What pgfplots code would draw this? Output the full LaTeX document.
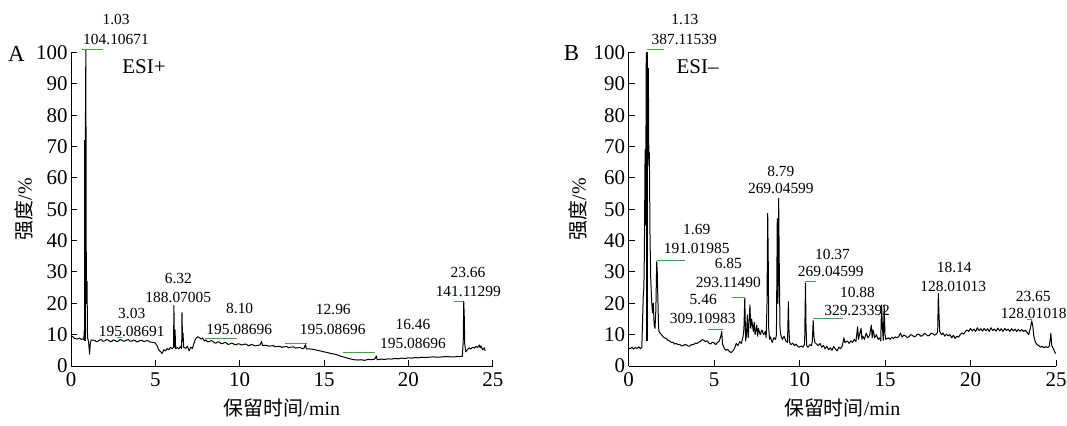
\documentclass[border=0pt]{standalone}
\usepackage{fontspec}
\setmainfont{Liberation Serif}
\newfontfamily\cjk{Noto Sans CJK SC}
\usepackage{pgfplots}
\pgfplotsset{compat=1.18}
\definecolor{mkgreen}{RGB}{70,160,70}

\newcommand{\tickfont}{\fontsize{21}{24}\selectfont}
\pgfplotsset{
  chrom/.style={
    axis lines=left,
    axis line style={-, line width=1bp, black},
    xmin=0, xmax=25, ymin=0, ymax=100,
    y=3.135bp,
    xtick={0,5,...,25}, ytick={0,10,...,100},
    tick align=inside,
    major tick length=6bp,
    tick style={black, line width=1bp},
    /pgf/number format/assume math mode=true,
    xticklabel style={font=\tickfont, yshift=-3bp},
    yticklabel style={font=\tickfont},
    clip=false,
    anchor=south west,
    xlabel={{\cjk 保留时间}/min},
    ylabel={{\cjk 强度}/\%},
    xlabel style={font=\fontsize{20}{24}\selectfont, at={(axis description cs:0.5,-0.134)}, anchor=center},
    label style={font=\fontsize{20}{24}\selectfont},
  },
  trace/.style={black, line width=1bp, mark=none, line join=round},
  gline/.style={mkgreen, line width=1bp, mark=none},
}
\tikzset{ann/.style={font=\fontsize{15.5}{18}\selectfont, inner sep=0pt, anchor=center}}

\begin{document}
\begin{tikzpicture}
\useasboundingbox (0bp,0bp) rectangle (1067bp,426bp);

%================ Panel A ================
\begin{axis}[chrom, at={(71bp,60bp)}, x=16.87bp,
  ylabel style={at={(axis description cs:-0.111,0.5)}, anchor=center}]
\addplot[trace] coordinates {
(0.00,9.5)(0.10,9.4)(0.20,8.8)(0.30,8.7)(0.40,8.6)(0.50,8.9)(0.60,8.5)(0.70,8.7)(0.76,8.4)
(0.79,11.5)(0.81,8.5)(0.83,10)(0.85,72)(0.88,101)(0.91,20)(0.95,27)(0.98,9)(1.03,8.0)(1.07,6.0)
(1.10,3.8)(1.15,7.5)(1.20,8.3)(1.4,8.2)(1.5,7.8)(1.6,7.9)(1.7,8.3)(1.8,8.4)(1.9,7.9)(2.0,8.0)(2.1,8.4)
(2.2,8.3)(2.3,7.9)(2.4,7.8)(2.5,8.3)(2.6,8.2)(2.7,7.8)(2.8,7.9)(2.9,8.4)(3.0,8.3)(3.1,7.9)(3.2,8.0)
(3.3,8.3)(3.4,8.4)(3.5,7.9)(3.6,7.9)(3.7,8.3)(3.8,8.1)(3.9,7.7)(4.0,7.8)(4.1,8.2)(4.2,8.2)(4.3,7.8)
(4.4,7.9)(4.5,8.1)(4.6,8.0)(4.7,7.6)(4.8,7.6)(4.9,7.5)(5.0,7.3)(5.1,6.5)(5.2,5.2)(5.3,4.6)(5.4,4.0)
(5.5,5.2)(5.6,4.8)(5.7,5.6)(5.8,5.2)(5.9,5.9)(6.0,5.5)(6.08,6.0)(6.10,19.3)(6.13,6.0)(6.17,11.5)
(6.2,5.5)(6.3,5.9)(6.4,5.5)(6.5,6.3)(6.56,5.5)(6.58,17)(6.61,8)(6.64,10.5)(6.68,6)(6.8,5.6)(6.9,6.3)
(7.0,4.8)(7.1,6.0)(7.2,5.6)(7.3,7.5)(7.4,8.8)(7.5,9.3)(7.6,9.1)(7.7,8.6)(7.8,8.9)(7.9,8.0)(8.0,8.3)
(8.1,7.7)(8.2,7.8)(8.3,8.1)(8.4,7.9)(8.5,7.4)(8.6,7.3)(8.7,7.7)(8.8,7.6)(8.9,7.1)(9.0,7.2)(9.1,7.5)
(9.2,7.4)(9.3,6.9)(9.4,7.0)(9.5,7.3)(9.6,7.2)(9.7,6.8)(9.8,6.8)(9.9,7.1)(10.0,7.0)(10.1,6.7)(10.2,6.8)
(10.3,7.0)(10.4,6.9)(10.5,6.5)(10.6,6.6)(10.7,6.9)(10.8,6.7)(10.9,6.4)(11.0,6.5)(11.2,6.7)(11.3,7.8)
(11.35,6.5)(11.5,6.6)(11.6,6.6)(11.7,6.3)(11.8,6.4)(12.0,6.5)(12.1,6.1)(12.2,6.2)(12.4,6.3)(12.5,5.9)
(12.6,6.1)(12.8,6.2)(12.9,5.8)(13.0,6.0)(13.2,6.1)(13.3,5.7)(13.4,5.8)(13.6,5.9)(13.7,5.5)(13.8,5.6)
(13.9,6.8)(13.95,5.5)(14.2,5.4)(14.4,5.3)(14.6,5.0)(14.8,4.8)(15.0,4.5)(15.2,4.3)(15.4,4.0)(15.6,3.8)
(15.8,3.5)(16.0,3.1)(16.2,2.8)(16.4,2.5)(16.6,2.2)(16.8,2.0)(17.0,1.9)(17.2,2.0)(17.4,1.8)(17.6,2.1)
(17.8,2.0)(18.0,2.2)(18.1,3.2)(18.15,2.0)(18.4,2.2)(18.6,2.1)(18.8,2.3)(19.0,2.2)(19.2,2.4)(19.4,2.3)
(19.6,2.5)(19.8,2.4)(20.0,2.6)(20.2,2.5)(20.4,2.7)(20.6,2.6)(20.8,2.8)(21.0,2.7)(21.4,2.9)(21.8,2.8)
(22.2,3.0)(22.6,2.9)(23.0,3.0)(23.2,3.1)(23.25,8)(23.28,20.5)(23.31,16)(23.34,7)(23.4,4.5)(23.5,5.2)
(23.6,5.8)(23.7,5.4)(23.8,6.0)(23.9,5.7)(24.0,6.2)(24.1,5.9)(24.2,6.7)(24.25,5.8)(24.3,6.4)(24.4,5.2)
(24.5,5.8)(24.55,4.8)
};
\addplot[trace, line width=2bp] coordinates {(0.85,8)(0.85,72)};
\addplot[gline] coordinates {(0.65,101.1)(1.90,101.1)};
\addplot[gline] coordinates {(2.73,9.2)(3.02,9.2)};
\addplot[gline] coordinates {(7.94,8.9)(9.82,8.9)};
\addplot[gline] coordinates {(12.69,7.1)(13.97,7.1)};
\addplot[gline] coordinates {(16.14,4.2)(18.02,4.2)};
\addplot[gline] coordinates {(22.70,20.7)(23.25,20.7)};
\node[ann] at (axis cs:2.67,110.4) {1.03};
\node[ann] at (axis cs:2.67,104.3) {104.10671};
\node[ann] at (axis cs:3.60,16.9) {3.03};
\node[ann] at (axis cs:3.60,10.9) {195.08691};
\node[ann] at (axis cs:6.36,27.8) {6.32};
\node[ann] at (axis cs:6.36,21.8) {188.07005};
\node[ann] at (axis cs:10.0,18.4) {8.10};
\node[ann] at (axis cs:9.97,11.7) {195.08696};
\node[ann] at (axis cs:15.55,17.9) {12.96};
\node[ann] at (axis cs:15.51,11.5) {195.08696};
\node[ann] at (axis cs:20.27,13.1) {16.46};
\node[ann] at (axis cs:20.27,7.2) {195.08696};
\node[ann] at (axis cs:23.53,29.8) {23.66};
\node[ann] at (axis cs:23.55,23.7) {141.11299};
\node[font=\fontsize{21}{24}\selectfont, inner sep=0pt] at (axis cs:4.33,95.4) {ESI+};
\end{axis}

%================ Panel B ================
\begin{axis}[chrom, at={(628.5bp,60bp)}, x=17.1bp,
  ylabel style={at={(axis description cs:-0.118,0.5)}, anchor=center}]
\addplot[trace] coordinates {
(0.0,5.8)(0.1,5.5)(0.2,6.0)(0.3,5.4)(0.4,5.9)(0.5,5.6)(0.6,6.1)(0.7,5.5)(0.78,6.0)(0.82,14)(0.86,22)
(0.90,25)(0.93,37)(0.97,69)(1.00,45)(1.04,100)(1.07,98)(1.10,100)(1.13,66)(1.16,95)(1.19,64)(1.22,68)
(1.26,40)(1.3,28)(1.35,21)(1.4,17)(1.45,20)(1.5,13)(1.55,12)(1.6,18)(1.65,33.3)(1.68,30)(1.72,21)
(1.76,12)(1.8,10.8)(1.9,10.2)(2.0,9.5)(2.1,9.0)(2.2,8.8)(2.3,8.2)(2.4,8.0)(2.5,7.5)(2.6,7.6)(2.7,7.0)
(2.8,7.2)(2.9,6.8)(3.0,6.9)(3.1,6.4)(3.2,6.5)(3.3,6.9)(3.4,6.7)(3.5,6.3)(3.6,6.4)(3.7,6.9)(3.8,6.8)
(3.9,7.3)(4.0,7.2)(4.1,7.6)(4.2,7.8)(4.3,8.4)(4.4,8.2)(4.5,7.8)(4.6,8.0)(4.7,7.3)(4.8,7.0)(4.9,7.6)
(5.0,7.4)(5.1,6.8)(5.2,7.5)(5.3,7.9)(5.4,9.5)(5.45,11)(5.5,7.0)(5.6,5.6)(5.7,5.0)(5.8,5.3)(5.9,4.6)
(6.0,4.3)(6.1,4.8)(6.2,5.6)(6.3,7.2)(6.4,6.5)(6.5,7.8)(6.6,7.2)(6.7,9.4)(6.75,12)(6.8,21.6)(6.85,8)
(6.9,10)(6.95,16.3)(7.0,9)(7.05,14)(7.1,19.5)(7.15,12)(7.2,15)(7.3,11)(7.35,14)(7.4,10)(7.5,13)
(7.55,9.5)(7.6,12)(7.7,10)(7.8,11.5)(7.9,10)(8.0,11)(8.05,9)(8.1,20)(8.14,48.7)(8.17,35)(8.2,12)
(8.25,8.5)(8.3,9.3)(8.4,7.5)(8.5,9.0)(8.6,8.5)(8.65,10)(8.7,47)(8.74,20)(8.78,53.5)(8.82,30)(8.86,12)
(8.9,10)(9.0,8.5)(9.1,9.5)(9.2,8.0)(9.3,7.5)(9.35,20.5)(9.38,12)(9.42,7.5)(9.5,6.8)(9.6,7.3)(9.7,6.5)
(9.8,7.0)(9.9,6.2)(10.0,6.0)(10.1,6.4)(10.2,6.0)(10.3,7.0)(10.35,26.4)(10.38,13)(10.42,6.5)(10.5,6.0)
(10.6,6.8)(10.7,6.5)(10.75,8)(10.8,14.5)(10.85,9)(10.9,7.5)(11.0,7.0)(11.1,6.5)(11.2,7.2)(11.3,6.0)
(11.4,6.6)(11.5,5.5)(11.6,6.3)(11.7,5.2)(11.8,5.8)(11.9,5.0)(12.0,6.2)(12.1,5.4)(12.2,4.8)(12.3,6.0)
(12.4,5.5)(12.5,6.4)(12.6,9.0)(12.65,7.5)(12.8,8.0)(12.9,7.2)(13.0,8.0)(13.1,7.5)(13.2,8.5)(13.3,7.8)
(13.4,12.5)(13.45,8.5)(13.5,9.8)(13.6,12.0)(13.65,8.5)(13.7,9.5)(13.8,8.5)(13.9,10.5)(14.0,9.0)
(14.1,9.8)(14.2,13)(14.25,9)(14.3,11.5)(14.4,9.0)(14.5,10.0)(14.6,8.5)(14.7,9.0)(14.75,8.0)(14.8,19.5)
(14.85,12)(14.9,8.2)(14.95,19.5)(15.0,10)(15.05,8.5)(15.2,9.0)(15.3,8.5)(15.4,9.2)(15.5,8.8)(15.6,9.3)
(15.7,9.0)(15.8,9.4)(15.9,10.5)(16.0,9.2)(16.1,9.9)(16.2,9.6)(16.3,9.1)(16.4,9.3)(16.5,10.0)(16.6,9.8)
(16.7,9.3)(16.8,9.5)(16.9,10.2)(17.0,10.0)(17.1,9.5)(17.2,9.7)(17.3,10.4)(17.4,10.1)(17.5,9.6)(17.6,9.8)
(17.7,10.5)(17.8,10.3)(17.9,9.8)(18.0,10.2)(18.08,10.8)(18.12,23.2)(18.15,17.5)(18.2,11)(18.3,10.0)
(18.4,10.5)(18.5,9.5)(18.6,10.2)(18.7,9.6)(18.8,10.0)(18.9,9.0)(19.0,9.8)(19.1,8.8)(19.2,9.5)(19.3,9.2)
(19.4,10.0)(19.5,10.5)(19.6,10.2)(19.7,11.0)(19.8,11.5)(19.9,11.0)(20.0,12.0)(20.1,11.2)(20.2,11.8)
(20.3,11.0)(20.4,12.2)(20.5,11.3)(20.6,11.9)(20.7,11.1)(20.8,12.0)(20.9,11.2)(21.0,11.9)(21.1,11.0)
(21.2,12.2)(21.3,11.3)(21.4,11.8)(21.5,11.1)(21.6,12.1)(21.7,11.2)(21.8,11.9)(21.9,11.0)(22.0,12.0)
(22.1,11.3)(22.2,11.8)(22.3,11.0)(22.4,11.9)(22.5,11.2)(22.6,11.8)(22.7,11.0)(22.8,11.7)(22.9,11.1)
(23.0,11.6)(23.1,11.0)(23.2,11.4)(23.3,10.8)(23.4,10.0)(23.5,12)(23.58,14.4)(23.65,12.5)(23.7,9.5)
(23.8,7.5)(23.9,6.8)(24.0,6.5)(24.1,6.0)(24.2,6.3)(24.3,5.8)(24.4,6.2)(24.5,5.9)(24.6,6.2)(24.65,8)
(24.7,10.4)(24.75,6.5)(24.85,5.5)(24.95,4.2)(25.0,4.0)
};
\addplot[trace, line width=2bp] coordinates {(1.10,8)(1.10,100)};
\addplot[gline] coordinates {(1.06,100.8)(2.08,100.8)};
\addplot[gline] coordinates {(1.65,33.7)(3.30,33.7)};
\addplot[gline] coordinates {(6.04,21.8)(6.81,21.8)};
\addplot[gline] coordinates {(4.67,11.8)(5.51,11.8)};
\addplot[gline] coordinates {(10.32,26.9)(10.96,26.9)};
\addplot[gline] coordinates {(10.81,15.2)(12.53,15.2)};
\addplot[gline] coordinates {(23.29,14.7)(23.60,14.7)};
\node[ann] at (axis cs:3.30,110.4) {1.13};
\node[ann] at (axis cs:3.26,104.2) {387.11539};
\node[ann] at (axis cs:3.99,43.4) {1.69};
\node[ann] at (axis cs:3.99,37.5) {191.01985};
\node[ann] at (axis cs:5.84,32.8) {6.85};
\node[ann] at (axis cs:5.84,26.6) {293.11490};
\node[ann] at (axis cs:4.37,21.3) {5.46};
\node[ann] at (axis cs:4.34,15.2) {309.10983};
\node[ann] at (axis cs:8.91,62.0) {8.79};
\node[ann] at (axis cs:8.91,56.5) {269.04599};
\node[ann] at (axis cs:11.93,35.7) {10.37};
\node[ann] at (axis cs:11.83,30.1) {269.04599};
\node[ann] at (axis cs:13.39,23.4) {10.88};
\node[ann] at (axis cs:13.37,17.6) {329.23392};
\node[ann] at (axis cs:19.05,31.5) {18.14};
\node[ann] at (axis cs:18.99,25.5) {128.01013};
\node[ann] at (axis cs:23.67,22.3) {23.65};
\node[ann] at (axis cs:23.70,16.6) {128.01018};
\node[font=\fontsize{21}{24}\selectfont, inner sep=0pt] at (axis cs:4.04,95.5) {ESI–};
\end{axis}

\node[font=\fontsize{23}{26}\selectfont, inner sep=0pt] at (16.5bp,372.5bp) {A};
\node[font=\fontsize{23}{26}\selectfont, inner sep=0pt] at (571.5bp,372.5bp) {B};
\end{tikzpicture}
\end{document}
